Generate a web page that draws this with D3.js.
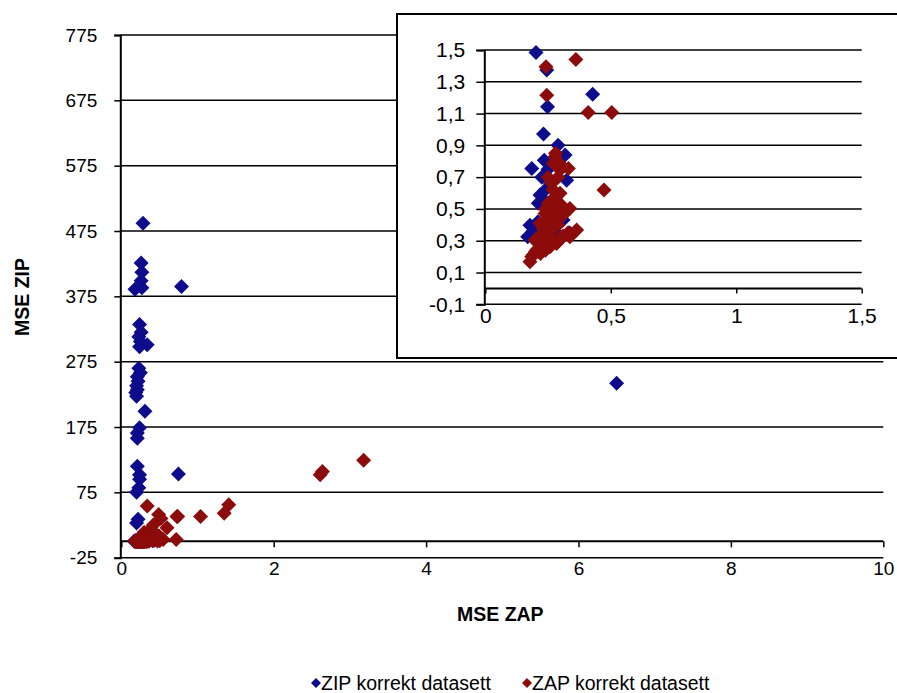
<!DOCTYPE html>
<html>
<head>
<meta charset="utf-8">
<script src="https://cdn.jsdelivr.net/npm/d3@7"></script>
<style>
  html, body { margin: 0; padding: 0; background: #fff; }
  svg { display: block; }
  text { font-family: "Liberation Sans", Arial, sans-serif; fill: #000; }
</style>
</head>
<body>
<svg id="chart" width="897" height="693"></svg>
<script>
// ---------- DATA ----------
const seriesNames = ["ZIP korrekt datasett", "ZAP korrekt datasett"];

const zipX = [0.285, 0.26, 0.27, 0.26, 0.18, 0.27, 0.79, 0.24, 0.26, 0.23, 0.24, 0.34, 0.25,
  0.23, 0.25, 0.21, 0.22, 0.20, 0.21, 0.19, 0.20, 6.5, 0.31, 0.24, 0.21, 0.21, 0.21, 0.24,
  0.24, 0.23, 0.20, 0.75, 0.22, 0.20,
  0.202, 0.245, 0.428, 0.248, 0.232, 0.29, 0.318, 0.235, 0.185, 0.225, 0.324, 0.218, 0.211,
  0.31, 0.178, 0.228, 0.169, 0.30, 0.337, 0.25, 0.26, 0.24, 0.20, 0.22, 0.28,
  0.19, 0.21, 0.23, 0.26, 0.29];
const zipY = [487, 426, 412, 399, 386, 388, 390, 332, 320, 313, 298, 301, 306,
  265, 258, 252, 245, 238, 232, 228, 222, 242, 199, 174, 166, 158, 115, 102,
  95, 82, 75, 103, 34, 28,
  1.485, 1.374, 1.221, 1.143, 0.971, 0.90, 0.839, 0.807, 0.755, 0.70, 0.68, 0.587, 0.535,
  0.43, 0.398, 0.367, 0.325, 0.325, 0.348, 0.75, 0.66, 0.62, 0.30, 0.28, 0.30,
  0.36, 0.42, 0.56, 0.5, 0.34];

const zapX = [0.34, 0.73, 0.74, 0.49, 0.52, 1.04, 1.41, 1.35, 2.64, 2.61, 3.18, 0.72,
  0.60, 0.38, 0.45, 0.50, 0.30, 0.55, 0.42, 0.29, 0.35, 0.25,
  0.361, 0.242, 0.245, 0.41, 0.504, 0.473, 0.278, 0.271, 0.331, 0.298, 0.264, 0.298,
  0.251, 0.337, 0.238, 0.284, 0.245, 0.364, 0.337, 0.284, 0.231, 0.205, 0.185, 0.178,
  0.258, 0.225, 0.31, 0.198, 0.218, 0.27, 0.26, 0.29,
  0.19, 0.20, 0.21, 0.22, 0.23, 0.24, 0.25, 0.26, 0.27, 0.29, 0.31, 0.33, 0.22, 0.24,
  0.26, 0.23, 0.25, 0.27, 0.29, 0.26, 0.28, 0.30, 0.31, 0.24, 0.27, 0.25, 0.29, 0.30, 0.28];
const zapY = [54, 38, 38, 41, 35, 38, 56, 43, 107, 102, 124, 3,
  21, 18, 12, 8, 14, 3, 25, 8, 4, 6,
  1.441, 1.395, 1.216, 1.106, 1.106, 0.619, 0.828, 0.787, 0.755, 0.745, 0.661, 0.598,
  0.535, 0.503, 0.472, 0.45, 0.43, 0.367, 0.325, 0.283, 0.283, 0.241, 0.199, 0.168,
  0.262, 0.346, 0.325, 0.304, 0.409, 0.52, 0.48, 0.40,
  0.21, 0.23, 0.25, 0.22, 0.27, 0.24, 0.29, 0.27, 0.30, 0.31, 0.33, 0.35, 0.30, 0.32,
  0.36, 0.38, 0.42, 0.46, 0.50, 0.55, 0.57, 0.53, 0.46, 0.50, 0.62, 0.70, 0.70, 0.78, 0.85];

const mainXTicks = [0, 2, 4, 6, 8, 10];
const mainYTicks = [-25, 75, 175, 275, 375, 475, 575, 675, 775];
const insetXTicks = [0, 0.5, 1, 1.5];
const insetYTicks = [-0.1, 0.1, 0.3, 0.5, 0.7, 0.9, 1.1, 1.3, 1.5];

const colors = ["#0c0c8c", "#8c0c0c"];
const xTitle = "MSE ZAP";
const yTitle = "MSE ZIP";

// ---------- HELPERS ----------
const svg = d3.select("#chart");
const fmt = v => String(v).replace(".", ",");
const diamond = r => `M0,${-r}L${r},0L0,${r}L${-r},0Z`;
const zip = d3.range(zipX.length).map(i => ({x: zipX[i], y: zipY[i]}));
const zap = d3.range(zapX.length).map(i => ({x: zapX[i], y: zapY[i]}));
const series = [zip, zap];

// ---------- MAIN CHART ----------
const x = d3.scaleLinear().domain([0, 10]).range([121.3, 883.3]);
const y = d3.scaleLinear().domain([-25, 775]).range([557.7, 35]);

const main = svg.append("g");
main.append("g").selectAll("line").data(mainYTicks).join("line")
  .attr("x1", x(0) - 1).attr("x2", x(10))
  .attr("y1", d => y(d)).attr("y2", d => y(d))
  .attr("stroke", "#000").attr("stroke-width", 1.5);

const yAxis = main.append("g").attr("transform", `translate(${x(0) - 1},0)`)
  .call(d3.axisLeft(y).tickValues(mainYTicks).tickSize(6).tickPadding(17).tickFormat(fmt));
const xAxis = main.append("g").attr("transform", `translate(0,${y(0)})`)
  .call(d3.axisBottom(x).tickValues(mainXTicks).tickSize(6).tickPadding(y(-25) - y(0) - 2).tickFormat(fmt));
[yAxis, xAxis].forEach(a => {
  a.select(".domain").attr("stroke", "#000").attr("stroke-width", 2);
  a.selectAll(".tick line").attr("stroke", "#000").attr("stroke-width", 1.5);
  a.selectAll(".tick text").style("font-size", "19px").attr("fill", "#000");
});
xAxis.select(".domain").attr("d", `M${x(0) - 1},0H${x(10)}`);

series.forEach((s, i) => {
  main.append("g").selectAll("path").data(s).join("path")
    .attr("d", diamond(7.5))
    .attr("transform", d => `translate(${x(d.x)},${y(d.y)})`)
    .attr("fill", colors[i]);
});

svg.append("text").attr("x", x(5) - 2).attr("y", 621).attr("text-anchor", "middle")
  .style("font-size", "19.5px").style("font-weight", "bold").text(xTitle);
svg.append("text").attr("transform", "translate(29,297) rotate(-90)").attr("text-anchor", "middle")
  .style("font-size", "19.5px").style("font-weight", "bold").text(yTitle);

// ---------- INSET ----------
const ix = d3.scaleLinear().domain([0, 1.5]).range([485.3, 861.7]);
const iy = d3.scaleLinear().domain([-0.1, 1.5]).range([304.3, 50]);

const inset = svg.append("g");
inset.append("rect").attr("x", 397).attr("y", 14).attr("width", 520).attr("height", 344)
  .attr("fill", "#fff").attr("stroke", "#000").attr("stroke-width", 2);

inset.append("g").selectAll("line").data(insetYTicks).join("line")
  .attr("x1", ix(0) - 1).attr("x2", ix(1.5))
  .attr("y1", d => iy(d)).attr("y2", d => iy(d))
  .attr("stroke", "#000").attr("stroke-width", 1.5);

const iyAxis = inset.append("g").attr("transform", `translate(${ix(0) - 1},0)`)
  .call(d3.axisLeft(iy).tickValues(insetYTicks).tickSize(8).tickPadding(11).tickFormat(fmt));
const ixAxis = inset.append("g").attr("transform", `translate(0,${iy(0)})`)
  .call(d3.axisBottom(ix).tickValues(insetXTicks).tickSize(5).tickPadding(iy(-0.1) - iy(0) - 1).tickFormat(fmt));
[iyAxis, ixAxis].forEach(a => {
  a.select(".domain").attr("stroke", "#000").attr("stroke-width", 2);
  a.selectAll(".tick line").attr("stroke", "#000").attr("stroke-width", 1.5);
  a.selectAll(".tick text").style("font-size", "21px").attr("fill", "#000");
});
ixAxis.select(".domain").attr("d", `M${ix(0) - 1},0H${ix(1.5)}`);

series.forEach((s, i) => {
  inset.append("g").selectAll("path")
    .data(s.filter(d => d.x >= 0 && d.x <= 1.5 && d.y >= -0.1 && d.y <= 1.5))
    .join("path")
    .attr("d", diamond(7.5))
    .attr("transform", d => `translate(${ix(d.x)},${iy(d.y)})`)
    .attr("fill", colors[i]);
});

// ---------- LEGEND ----------
const legendX = [316, 527];
const lg = svg.append("g");
seriesNames.forEach((n, i) => {
  lg.append("path").attr("d", diamond(5)).attr("transform", `translate(${legendX[i]},${683})`)
    .attr("fill", colors[i]);
  lg.append("text").attr("x", legendX[i] + 5).attr("y", 690)
    .style("font-size", "19.5px").text(n);
});
</script>
</body>
</html>
